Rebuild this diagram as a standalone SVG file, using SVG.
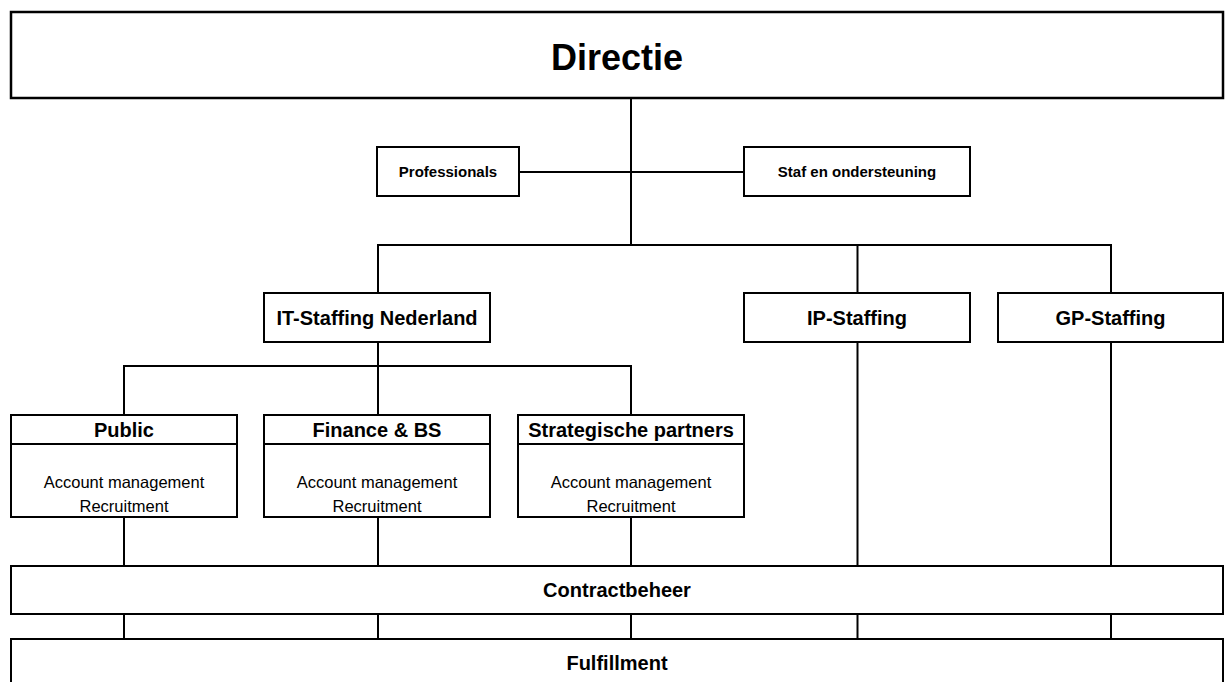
<svg xmlns="http://www.w3.org/2000/svg" width="1225" height="682" viewBox="0 0 1225 682">
<style>
.box{fill:#fff;stroke:#000;stroke-width:2}
.conn line{stroke:#000;stroke-width:2}
text{font-family:"Liberation Sans",Arial,sans-serif;fill:#000;text-anchor:middle}
.b{font-weight:bold}
.t20{font-size:20px}
.t15{font-size:15px}
.r{font-size:16.5px}
</style>
<rect width="1225" height="682" fill="#fff"/>
<g id="connectors" class="conn">
<line x1="631" y1="98" x2="631" y2="245"/>
<line x1="519" y1="172" x2="744" y2="172"/>
<line x1="377" y1="245" x2="1112" y2="245"/>
<line x1="378" y1="245" x2="378" y2="293"/>
<line x1="857.5" y1="245" x2="857.5" y2="293"/>
<line x1="1111" y1="245" x2="1111" y2="293"/>
<line x1="378" y1="342" x2="378" y2="366"/>
<line x1="123" y1="366" x2="632" y2="366"/>
<line x1="124" y1="366" x2="124" y2="415"/>
<line x1="378" y1="366" x2="378" y2="415"/>
<line x1="631" y1="366" x2="631" y2="415"/>
<line x1="124" y1="517" x2="124" y2="566"/>
<line x1="378" y1="517" x2="378" y2="566"/>
<line x1="631" y1="517" x2="631" y2="566"/>
<line x1="857.5" y1="342" x2="857.5" y2="566"/>
<line x1="1111" y1="342" x2="1111" y2="566"/>
<line x1="124" y1="614" x2="124" y2="639"/>
<line x1="378" y1="614" x2="378" y2="639"/>
<line x1="631" y1="614" x2="631" y2="639"/>
<line x1="857.5" y1="614" x2="857.5" y2="639"/>
<line x1="1111" y1="614" x2="1111" y2="639"/>
</g>
<g id="directie">
<rect class="box" x="11" y="12" width="1212" height="86" style="stroke-width:2.5"/>
<text class="b" x="617" y="70" font-size="36">Directie</text>
</g>
<g id="professionals">
<rect class="box" x="377" y="147" width="142" height="49"/>
<text class="b t15" x="448" y="177">Professionals</text>
</g>
<g id="staf">
<rect class="box" x="744" y="147" width="226" height="49"/>
<text class="b t15" x="857" y="177">Staf en ondersteuning</text>
</g>
<g id="it-staffing">
<rect class="box" x="264" y="293" width="226" height="49"/>
<text class="b t20" x="377" y="325">IT-Staffing Nederland</text>
</g>
<g id="ip-staffing">
<rect class="box" x="744" y="293" width="226" height="49"/>
<text class="b t20" x="857" y="325">IP-Staffing</text>
</g>
<g id="gp-staffing">
<rect class="box" x="998" y="293" width="225" height="49"/>
<text class="b t20" x="1110.5" y="325">GP-Staffing</text>
</g>
<g id="public">
<rect class="box" x="11" y="415" width="226" height="102"/>
<line x1="11" y1="444" x2="237" y2="444" stroke="#000" stroke-width="2"/>
<text class="b t20" x="124" y="437">Public</text>
<text class="r" x="124" y="488">Account management</text>
<text class="r" x="124" y="512">Recruitment</text>
</g>
<g id="finance">
<rect class="box" x="264" y="415" width="226" height="102"/>
<line x1="264" y1="444" x2="490" y2="444" stroke="#000" stroke-width="2"/>
<text class="b t20" x="377" y="437">Finance &amp; BS</text>
<text class="r" x="377" y="488">Account management</text>
<text class="r" x="377" y="512">Recruitment</text>
</g>
<g id="strategische">
<rect class="box" x="518" y="415" width="226" height="102"/>
<line x1="518" y1="444" x2="744" y2="444" stroke="#000" stroke-width="2"/>
<text class="b t20" x="631" y="437">Strategische partners</text>
<text class="r" x="631" y="488">Account management</text>
<text class="r" x="631" y="512">Recruitment</text>
</g>
<g id="contractbeheer">
<rect class="box" x="11" y="566" width="1212" height="48"/>
<text class="b t20" x="617" y="597">Contractbeheer</text>
</g>
<g id="fulfillment">
<rect class="box" x="11" y="639" width="1212" height="70"/>
<text class="b t20" x="617" y="670">Fulfillment</text>
</g>
</svg>
